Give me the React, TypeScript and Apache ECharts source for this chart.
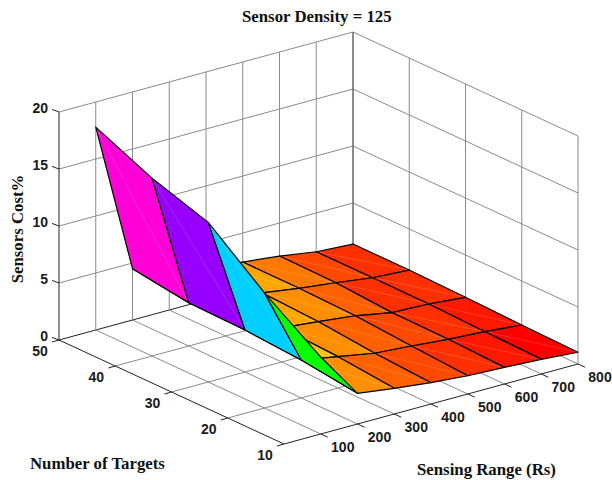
import React, { useEffect, useRef } from "react";
import * as echarts from "echarts";

// Tick values
const rangeTicks = [0, 100, 200, 300, 400, 500, 600, 700, 800];
const rangeLabels = [100, 200, 300, 400, 500, 600, 700, 800];
const targetTicks = [50, 40, 30, 20, 10];
const costTicks = [0, 5, 10, 15, 20];

// Surface samples: sensors cost % for each sensing range, one list per target count
const surfaceRanges = [100, 200, 300, 400, 500, 600, 700, 800];
const surfaceTargets = [10, 20, 30, 40, 50];
const costAt10 = [6.75, 2.69, 2.25, 1.87, 1.6, 1.46, 1.29, 1.03];
const costAt20 = [10.1, 3.33, 2.75, 2.17, 1.93, 1.64, 1.43, 1.14];
const costAt30 = [14.0, 3.68, 3.0, 2.66, 2.3, 1.7, 1.58, 1.29];
const costAt40 = [15.6, 3.8, 3.3, 2.9, 2.43, 2.04, 1.6, 1.4];
const costAt50 = [17.8, 4.5, 3.6, 3.0, 2.45, 2.1, 1.6, 1.4];
const costRows = [costAt10, costAt20, costAt30, costAt40, costAt50];

const titleText = "Sensor Density = 125";
const zTitle = "Sensors Cost%";
const targetTitle = "Number of Targets";
const rangeTitle = "Sensing Range (Rs)";

const SANS = '"Liberation Sans", Arial, sans-serif';
const SERIF = '"Liberation Serif", "Times New Roman", serif';
const GRID_COLOR = "#8a8a8a";

// Oblique view of the 3D box onto the hidden pixel-plane axes
function project(rs: number, t: number, z: number): [number, number] {
  return [
    59 + (rs * 294) / 800 + ((50 - t) * 225) / 40,
    340 - (rs * 80) / 800 + ((50 - t) * 104) / 40 - z * 11.4,
  ];
}

function hsvColor(h: number): string {
  const i = Math.floor(h * 6);
  const f = h * 6 - i;
  const q = 1 - f;
  const table = [
    [1, f, 0],
    [q, 1, 0],
    [0, 1, f],
    [0, q, 1],
    [f, 0, 1],
    [1, 0, q],
  ][i % 6];
  return `rgb(${table.map((v) => Math.round(v * 255)).join(",")})`;
}

const allCosts = costRows.flat();
const cMin = Math.min(...allCosts);
const cMax = Math.max(...allCosts);
function costColor(c: number): string {
  const idx = Math.min(63, Math.floor(((c - cMin) / (cMax - cMin)) * 64));
  return hsvColor(idx / 64);
}

type Seg = [number, number, number, number, number, number, number];

function buildWallSegments(): Seg[] {
  const segs: Seg[] = [];
  // kind 0: grey grid, 1: dark axis/frame
  for (const z of costTicks) {
    segs.push([0, 50, z, 800, 50, z, z === 0 ? 1 : 0]);
    segs.push([800, 50, z, 800, 10, z, 0]);
  }
  for (const rs of rangeTicks) {
    segs.push([rs, 50, 0, rs, 50, 20, rs === 0 ? 1 : 0]);
    if (rs > 0 && rs < 800) segs.push([rs, 50, 0, rs, 10, 0, 0]);
  }
  for (const t of targetTicks) {
    segs.push([800, t, 0, 800, t, 20, t === 50 ? 2 : 0]);
    if (t < 50 && t > 10) segs.push([0, t, 0, 800, t, 0, 0]);
  }
  segs.push([0, 50, 0, 0, 10, 0, 1]);
  segs.push([0, 10, 0, 800, 10, 0, 1]);
  return segs;
}

function buildFaces(): number[][] {
  const faces: number[][] = [];
  for (let j = surfaceRanges.length - 2; j >= 0; j--) {
    for (let i = surfaceTargets.length - 2; i >= 0; i--) {
      faces.push([
        surfaceRanges[j],
        surfaceRanges[j + 1],
        surfaceTargets[i],
        surfaceTargets[i + 1],
        costRows[i][j],
        costRows[i][j + 1],
        costRows[i + 1][j + 1],
        costRows[i + 1][j],
      ]);
    }
  }
  return faces;
}

export default function App() {
  const ref = useRef<HTMLDivElement>(null);
  useEffect(() => {
    const chart = echarts.init(ref.current!, undefined, { renderer: "svg" });

    const pt = (api: any, rs: number, t: number, z: number) => api.coord(project(rs, t, z));

    const tickSegs: number[][] = [
      ...costTicks.map((z) => [0, 50, z, -7, -2.6]),
      ...targetTicks.map((t) => [0, t, 0, -7, 2]),
      ...rangeLabels.map((rs) => [rs, 10, 0, 7, 3.2]),
    ];

    const labels: any[] = [
      ...costTicks.map((z) => ({ value: [0, 50, z, -11, -4], text: String(z), align: "right" })),
      ...targetTicks.map((t) => ({ value: [0, t, 0, -19, 11], text: String(t), align: "center" })),
      ...rangeLabels.map((rs) => ({ value: [rs, 10, 0, 22, 12.5], text: String(rs), align: "center" })),
    ];

    const titleStyle = {
      fontFamily: SERIF,
      fontWeight: "bold",
      fontSize: 16.8,
      fill: "#111",
      verticalAlign: "middle",
    };

    chart.setOption({
      animation: false,
      backgroundColor: "#ffffff",
      title: {
        text: titleText,
        left: 242,
        top: 8,
        padding: 0,
        textStyle: { fontFamily: SERIF, fontWeight: "bold", fontSize: 16.8, color: "#111" },
      },
      grid: { left: 0, right: 0, top: 0, bottom: 0 },
      xAxis: { type: "value", min: 0, max: 612, show: false },
      yAxis: { type: "value", min: 0, max: 480, inverse: true, show: false },
      tooltip: { show: false },
      graphic: [
        {
          type: "text",
          x: 17,
          y: 229,
          rotation: Math.PI / 2,
          style: { ...titleStyle, text: zTitle, align: "center" },
        },
        {
          type: "text",
          x: 30,
          y: 463,
          style: { ...titleStyle, text: targetTitle, align: "left" },
        },
        {
          type: "text",
          x: 417,
          y: 469,
          style: { ...titleStyle, text: rangeTitle, align: "left" },
        },
      ],
      series: [
        {
          type: "custom",
          name: "box",
          coordinateSystem: "cartesian2d",
          silent: true,
          data: buildWallSegments(),
          renderItem: (_p: any, api: any) => {
            const a = pt(api, api.value(0), api.value(1), api.value(2));
            const b = pt(api, api.value(3), api.value(4), api.value(5));
            const kind = api.value(6);
            return {
              type: "line",
              shape: { x1: a[0], y1: a[1], x2: b[0], y2: b[1] },
              style: {
                stroke: kind === 1 ? "#222" : kind === 2 ? "#555" : GRID_COLOR,
                lineWidth: 1,
              },
            };
          },
        },
        {
          type: "custom",
          name: "ticks",
          coordinateSystem: "cartesian2d",
          silent: true,
          data: tickSegs,
          renderItem: (_p: any, api: any) => {
            const a = pt(api, api.value(0), api.value(1), api.value(2));
            return {
              type: "line",
              shape: { x1: a[0], y1: a[1], x2: a[0] + api.value(3), y2: a[1] + api.value(4) },
              style: { stroke: "#222", lineWidth: 1 },
            };
          },
        },
        {
          type: "custom",
          name: "surface",
          coordinateSystem: "cartesian2d",
          silent: true,
          data: buildFaces(),
          renderItem: (_p: any, api: any) => {
            const r0 = api.value(0);
            const r1 = api.value(1);
            const t0 = api.value(2);
            const t1 = api.value(3);
            const p00 = pt(api, r0, t0, api.value(4));
            const p10 = pt(api, r1, t0, api.value(5));
            const p11 = pt(api, r1, t1, api.value(6));
            const p01 = pt(api, r0, t1, api.value(7));
            return {
              type: "group",
              children: [
                {
                  type: "polygon",
                  shape: { points: [p00, p10, p11, p01] },
                  style: {
                    fill: costColor(api.value(4)),
                    stroke: "#000",
                    lineWidth: 1.2,
                    lineJoin: "round",
                  },
                },
                {
                  type: "line",
                  shape: { x1: p01[0], y1: p01[1], x2: p10[0], y2: p10[1] },
                  style: { stroke: "rgba(255,255,255,0.25)", lineWidth: 0.6 },
                },
              ],
            };
          },
        },
        {
          type: "custom",
          name: "labels",
          coordinateSystem: "cartesian2d",
          silent: true,
          data: labels,
          renderItem: (p: any, api: any) => {
            const a = pt(api, api.value(0), api.value(1), api.value(2));
            const item = labels[p.dataIndex];
            return {
              type: "text",
              x: a[0] + api.value(3),
              y: a[1] + api.value(4),
              style: {
                text: item.text,
                fontFamily: SANS,
                fontWeight: "bold",
                fontSize: 14,
                fill: "#1a1a1a",
                align: item.align,
                verticalAlign: "middle",
              },
            };
          },
        },
      ],
    });
    return () => chart.dispose();
  }, []);
  return <div ref={ref} style={{ position: "absolute", left: 0, top: 0, width: 612, height: 480 }} />;
}
